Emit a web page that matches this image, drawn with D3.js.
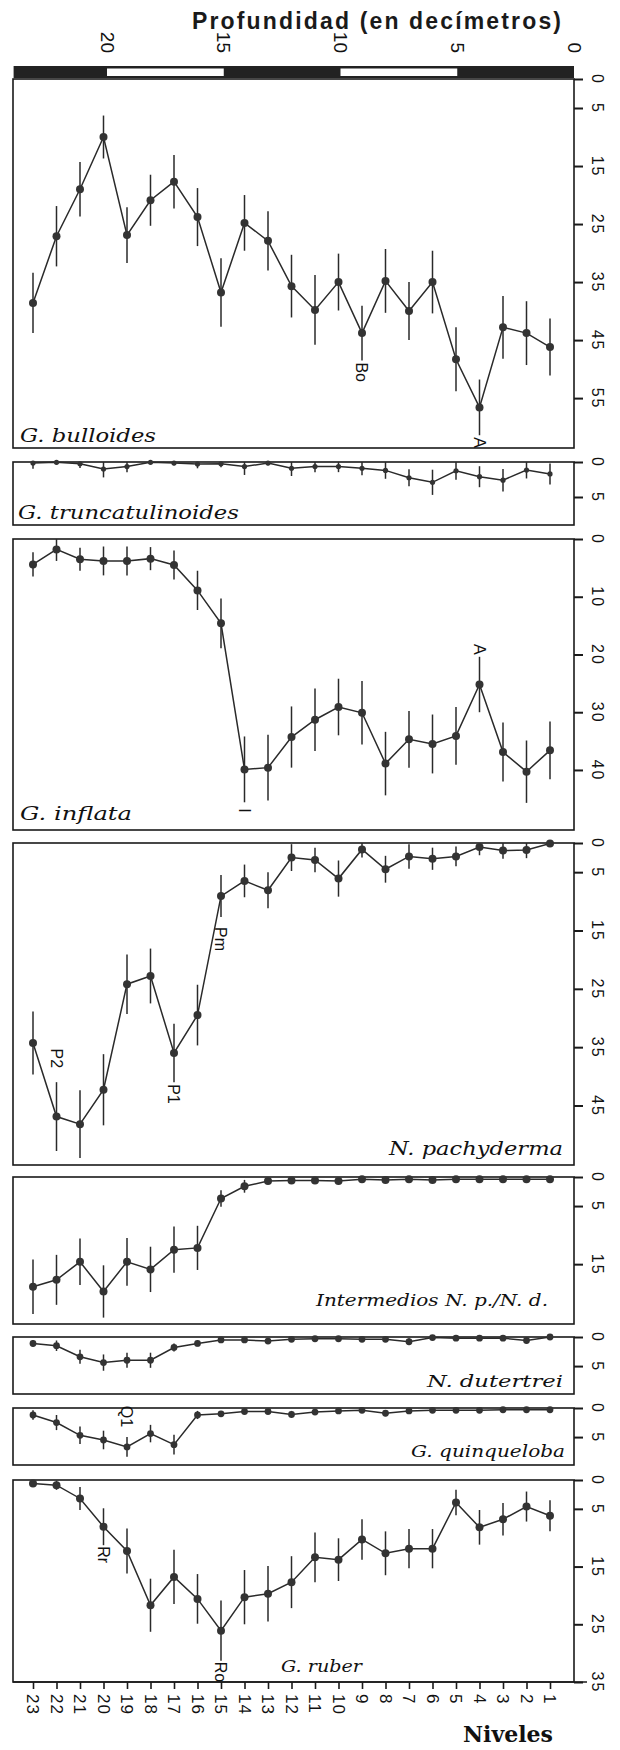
<!DOCTYPE html>
<html>
<head>
<meta charset="utf-8">
<script src="https://cdn.jsdelivr.net/npm/d3@7"></script>
<style>
  html, body { margin: 0; padding: 0; background: #fff; }
  svg { display: block; }
</style>
</head>
<body>
<div id="chart"></div>
<script>
// levels, oldest (23) to newest (1)
const levels = [23, 22, 21, 20, 19, 18, 17, 16, 15, 14, 13, 12, 11, 10, 9, 8, 7, 6, 5, 4, 3, 2, 1];
const depthTicks = [0, 5, 10, 15, 20];
const depthBreaks = [0, 5, 10, 15, 20, 24];

const bulloides = [38.6, 27.1, 19.0, 10.0, 26.9, 20.9, 17.7, 23.8, 36.8, 24.8, 27.9, 35.7, 39.8, 35.0, 43.8, 34.8, 40.0, 35.0, 48.3, 56.6, 42.8, 43.8, 46.2];
const bulloidesErr = [5.2, 5.2, 4.7, 3.7, 4.8, 4.4, 4.6, 5.0, 5.9, 4.8, 5.1, 5.4, 6.0, 4.9, 4.7, 5.5, 5.0, 5.4, 5.5, 4.8, 5.4, 5.5, 4.9];
const truncatulinoides = [0.15, 0.05, 0.25, 1.0, 0.65, 0.05, 0.15, 0.3, 0.25, 0.65, 0.15, 0.9, 0.65, 0.65, 0.9, 1.2, 2.25, 2.9, 1.25, 2.1, 2.6, 1.15, 1.7];
const truncatulinoidesErr = [0.8, 0.3, 0.6, 1.2, 0.8, 0.2, 0.3, 0.6, 0.5, 1.2, 0.3, 1.1, 0.8, 0.8, 1.0, 1.2, 1.2, 1.8, 1.3, 1.5, 1.6, 1.2, 1.5];
const inflata = [4.4, 1.8, 3.5, 3.8, 3.8, 3.4, 4.5, 8.9, 14.6, 39.9, 39.6, 34.3, 31.3, 29.1, 30.1, 38.9, 34.7, 35.5, 34.1, 25.2, 36.9, 40.3, 36.6];
const inflataErr = [2.1, 2.0, 2.0, 2.5, 2.5, 2.0, 2.5, 3.4, 4.3, 5.7, 5.7, 5.3, 5.4, 4.9, 5.5, 5.5, 4.9, 5.1, 5.0, 4.8, 5.1, 5.4, 5.0];
const pachyderma = [34.3, 46.9, 48.2, 42.3, 24.2, 22.8, 36.0, 29.5, 9.1, 6.5, 8.1, 2.5, 2.9, 6.1, 1.1, 4.5, 2.3, 2.7, 2.3, 0.7, 1.3, 1.2, 0.1];
const pachydermaErr = [5.4, 5.9, 5.8, 6.1, 5.1, 4.7, 5.0, 5.2, 3.6, 2.8, 3.1, 2.3, 2.1, 3.1, 1.4, 2.3, 2.1, 1.9, 1.7, 1.4, 1.4, 1.4, 0.5];
const intermedios = [18.9, 17.7, 14.6, 19.7, 14.6, 15.9, 12.5, 12.2, 3.7, 1.6, 0.7, 0.6, 0.6, 0.7, 0.4, 0.5, 0.4, 0.5, 0.4, 0.4, 0.4, 0.4, 0.4];
const intermediosErr = [4.7, 4.3, 4.0, 4.5, 4.1, 3.9, 4.0, 3.8, 1.4, 1.1, 0.4, 0.3, 0.3, 0.4, 0.2, 0.3, 0.2, 0.3, 0.2, 0.2, 0.2, 0.2, 0.2];
const dutertrei = [1.1, 1.5, 3.4, 4.4, 4.0, 4.0, 1.8, 1.1, 0.5, 0.5, 0.7, 0.4, 0.3, 0.3, 0.4, 0.4, 0.8, 0.1, 0.2, 0.2, 0.2, 0.6, 0.0];
const dutertreiErr = [0.6, 0.9, 1.2, 1.4, 1.3, 1.3, 0.7, 0.5, 0.3, 0.3, 0.5, 0.2, 0.2, 0.2, 0.2, 0.2, 0.6, 0.1, 0.2, 0.2, 0.2, 0.5, 0.1];
const quinqueloba = [1.2, 2.5, 4.7, 5.5, 6.7, 4.4, 6.3, 1.2, 1.0, 0.6, 0.6, 1.1, 0.7, 0.5, 0.4, 0.9, 0.5, 0.4, 0.4, 0.4, 0.3, 0.3, 0.3];
const quinquelobaErr = [0.8, 1.3, 1.5, 1.6, 1.7, 1.5, 1.7, 0.7, 0.5, 0.3, 0.3, 0.6, 0.3, 0.3, 0.2, 0.5, 0.3, 0.2, 0.2, 0.2, 0.2, 0.2, 0.2];
const ruber = [0.6, 0.9, 3.2, 8.1, 12.3, 21.7, 16.8, 20.6, 26.1, 20.3, 19.7, 17.7, 13.4, 13.8, 10.3, 12.7, 11.9, 11.9, 3.9, 8.2, 6.8, 4.6, 6.2];
const ruberErr = [0.5, 0.8, 2.0, 3.2, 3.9, 4.6, 4.7, 4.3, 5.2, 4.7, 4.8, 4.5, 4.3, 3.7, 3.5, 3.8, 3.4, 3.4, 2.2, 3.0, 2.8, 2.6, 2.7];

const bulloidesTicks = [0, 5, 15, 25, 35, 45, 55];
const truncatulinoidesTicks = [0, 5];
const inflataTicks = [0, 10, 20, 30, 40];
const pachydermaTicks = [0, 5, 15, 25, 35, 45];
const intermediosTicks = [0, 5, 15];
const dutertreiTicks = [0, 5];
const quinquelobaTicks = [0, 5];
const ruberTicks = [0, 5, 15, 25, 35];

const speciesNames = ['G. bulloides', 'G. truncatulinoides', 'G. inflata', 'N. pachyderma',
  'Intermedios N. p./N. d.', 'N. dutertrei', 'G. quinqueloba', 'G. ruber'];

// event labels: text, panel index, level
const markerLabels = ['Bo', 'A', 'A', 'I', 'Pm', 'P2', 'P1', 'Q1', 'Rr', 'Ro'];
const markerPanels = [0, 0, 2, 2, 3, 3, 3, 6, 7, 7];
const markerLevels = [9, 4, 4, 14, 15, 22, 17, 19, 20, 15];

const width = 620;
const height = 1750;
const left = 13;
const right = 574;
const ink = '#2a2a2a';

// panel layout (pixels)
const panels = [
  { values: bulloides, errors: bulloidesErr, ticks: bulloidesTicks, top: 79, bottom: 448, max: 63.6, r: 4, tx: 20, ty: 442, tw: 136, fs: 18 },
  { values: truncatulinoides, errors: truncatulinoidesErr, ticks: truncatulinoidesTicks, top: 462, bottom: 525, max: 9, r: 2.6, tx: 18, ty: 519, tw: 221, fs: 18 },
  { values: inflata, errors: inflataErr, ticks: inflataTicks, top: 539, bottom: 830, max: 50.4, r: 4, tx: 20, ty: 820, tw: 112, fs: 18 },
  { values: pachyderma, errors: pachydermaErr, ticks: pachydermaTicks, top: 843, bottom: 1165, max: 55.2, r: 4, tx: 389, ty: 1155, tw: 174, fs: 18 },
  { values: intermedios, errors: intermediosErr, ticks: intermediosTicks, top: 1177, bottom: 1324, max: 25.3, r: 4, tx: 316, ty: 1306, tw: 232, fs: 16 },
  { values: dutertrei, errors: dutertreiErr, ticks: dutertreiTicks, top: 1337, bottom: 1394, max: 9.8, r: 3.4, tx: 427, ty: 1387, tw: 136, fs: 16 },
  { values: quinqueloba, errors: quinquelobaErr, ticks: quinquelobaTicks, top: 1408, bottom: 1465, max: 9.8, r: 3.4, tx: 411, ty: 1457, tw: 154, fs: 16 },
  { values: ruber, errors: ruberErr, ticks: ruberTicks, top: 1480, bottom: 1682, max: 35, r: 4, tx: 281, ty: 1672, tw: 81, fs: 16 }
];
// where each event label sits: below or above the error bar, gap in px
const markerPlace = [['below', 2], ['below', 2], ['above', 2], ['below', 6], ['below', 10],
  ['above', 14], ['below', 2], ['above', 10], ['below', 1], ['below', 1]];

const svg = d3.select('#chart')
  .append('svg')
  .attr('width', width)
  .attr('height', height);

const x = d3.scalePoint().domain(levels).range([33, 550]);
const depth = d3.scaleLinear().domain([0, 20]).range([right, 107]);

// title
svg.append('text')
  .attr('x', 192)
  .attr('y', 29)
  .attr('textLength', 369)
  .attr('lengthAdjust', 'spacing')
  .style('font-family', '"Liberation Sans", Arial, sans-serif')
  .style('font-weight', 'bold')
  .style('font-size', '23px')
  .attr('fill', '#1a1a1a')
  .text('Profundidad (en decímetros)');

// depth axis labels
const depthAxis = svg.append('g')
  .attr('transform', 'translate(0,53)')
  .call(d3.axisTop(depth).tickValues(depthTicks).tickSize(0));
depthAxis.select('.domain').remove();
depthAxis.selectAll('text')
  .attr('x', 0)
  .attr('y', 0)
  .attr('dy', '0.36em')
  .attr('transform', 'rotate(90)')
  .attr('text-anchor', 'end')
  .style('font-family', '"Liberation Sans", Arial, sans-serif')
  .style('font-size', '19px')
  .attr('fill', '#111');

// depth scale bar
const segs = d3.pairs(depthBreaks);
svg.append('rect')
  .attr('x', depth(depthBreaks[depthBreaks.length - 1]))
  .attr('y', 66)
  .attr('width', depth(0) - depth(depthBreaks[depthBreaks.length - 1]))
  .attr('height', 12)
  .attr('fill', '#222');
svg.selectAll('.seg')
  .data(segs.filter((d, i) => i % 2 === 1))
  .enter()
  .append('rect')
  .attr('class', 'seg')
  .attr('x', d => depth(d[1]))
  .attr('y', 68.5)
  .attr('width', d => depth(d[0]) - depth(d[1]))
  .attr('height', 7.5)
  .attr('fill', '#fff');

const scales = [];

panels.forEach((p, k) => {
  const y = d3.scaleLinear().domain([0, p.max]).range([p.top, p.bottom]);
  scales.push(y);
  const g = svg.append('g');

  g.append('rect')
    .attr('x', left)
    .attr('y', p.top)
    .attr('width', right - left)
    .attr('height', p.bottom - p.top)
    .attr('fill', 'none')
    .attr('stroke', '#1a1a1a')
    .attr('stroke-width', 1.6);

  const ax = g.append('g')
    .attr('transform', `translate(${right},0)`)
    .call(d3.axisRight(y).tickValues(p.ticks).tickSize(9).tickSizeOuter(0));
  ax.select('.domain').remove();
  ax.selectAll('line').attr('stroke', '#1a1a1a').attr('stroke-width', 2);
  ax.selectAll('text')
    .attr('x', 0)
    .attr('dy', 0)
    .attr('transform', 'translate(18,0) rotate(90)')
    .attr('text-anchor', 'middle')
    .style('font-family', '"Liberation Sans", Arial, sans-serif')
    .style('font-size', '16px')
    .style('letter-spacing', '2px')
    .attr('fill', '#111');

  const rows = p.values.map((v, i) => ({ level: levels[i], v: v, e: p.errors[i] }));

  g.selectAll('.err')
    .data(rows)
    .enter()
    .append('line')
    .attr('class', 'err')
    .attr('x1', d => x(d.level))
    .attr('x2', d => x(d.level))
    .attr('y1', d => y(Math.max(0, d.v - d.e)))
    .attr('y2', d => y(Math.min(p.max, d.v + d.e)))
    .attr('stroke', ink)
    .attr('stroke-width', 1.5);

  g.append('path')
    .datum(rows)
    .attr('d', d3.line().x(d => x(d.level)).y(d => y(d.v)))
    .attr('fill', 'none')
    .attr('stroke', ink)
    .attr('stroke-width', 1.5);

  g.selectAll('.dot')
    .data(rows)
    .enter()
    .append('circle')
    .attr('class', 'dot')
    .attr('cx', d => x(d.level))
    .attr('cy', d => y(d.v))
    .attr('r', p.r)
    .attr('fill', '#333');

  g.append('text')
    .attr('x', p.tx)
    .attr('y', p.ty)
    .attr('textLength', p.tw)
    .attr('lengthAdjust', 'spacingAndGlyphs')
    .style('font-family', '"DejaVu Serif", serif')
    .style('font-style', 'italic')
    .style('font-size', p.fs + 'px')
    .attr('fill', '#111')
    .text(speciesNames[k]);
});

// bottom line of last panel runs out past the 35 tick
const last = panels[panels.length - 1];
svg.append('line')
  .attr('x1', left)
  .attr('x2', 587)
  .attr('y1', last.bottom)
  .attr('y2', last.bottom)
  .attr('stroke', '#1a1a1a')
  .attr('stroke-width', 1.6);

// level axis
const levelAxis = svg.append('g')
  .attr('transform', `translate(0,${last.bottom})`)
  .call(d3.axisBottom(x).tickSize(7));
levelAxis.select('.domain').remove();
levelAxis.selectAll('line').attr('stroke', '#1a1a1a').attr('stroke-width', 1.6);
levelAxis.selectAll('text')
  .attr('x', 0)
  .attr('y', 0)
  .attr('dy', '0.36em')
  .attr('transform', 'translate(0,12) rotate(90)')
  .attr('text-anchor', 'start')
  .style('font-family', '"Liberation Sans", Arial, sans-serif')
  .style('font-size', '17px')
  .style('letter-spacing', '1px')
  .attr('fill', '#111');

// event labels
markerLabels.forEach((label, i) => {
  const p = panels[markerPanels[i]];
  const y = scales[markerPanels[i]];
  const idx = levels.indexOf(markerLevels[i]);
  const v = p.values[idx];
  const e = p.errors[idx];
  const below = markerPlace[i][0] === 'below';
  const yy = below ? y(v + e) + markerPlace[i][1] : y(Math.max(0, v - e)) - markerPlace[i][1];
  svg.append('text')
    .attr('transform', `translate(${x(markerLevels[i])},${yy}) rotate(90)`)
    .attr('dy', '0.36em')
    .attr('text-anchor', below ? 'start' : 'end')
    .style('font-family', '"Liberation Sans", Arial, sans-serif')
    .style('font-size', '16px')
    .attr('fill', '#111')
    .text(label);
});

svg.append('text')
  .attr('x', 553)
  .attr('y', 1742)
  .attr('text-anchor', 'end')
  .style('font-family', '"DejaVu Serif", serif')
  .style('font-weight', 'bold')
  .style('font-size', '22px')
  .attr('fill', '#111')
  .text('Niveles');
</script>
</body>
</html>
